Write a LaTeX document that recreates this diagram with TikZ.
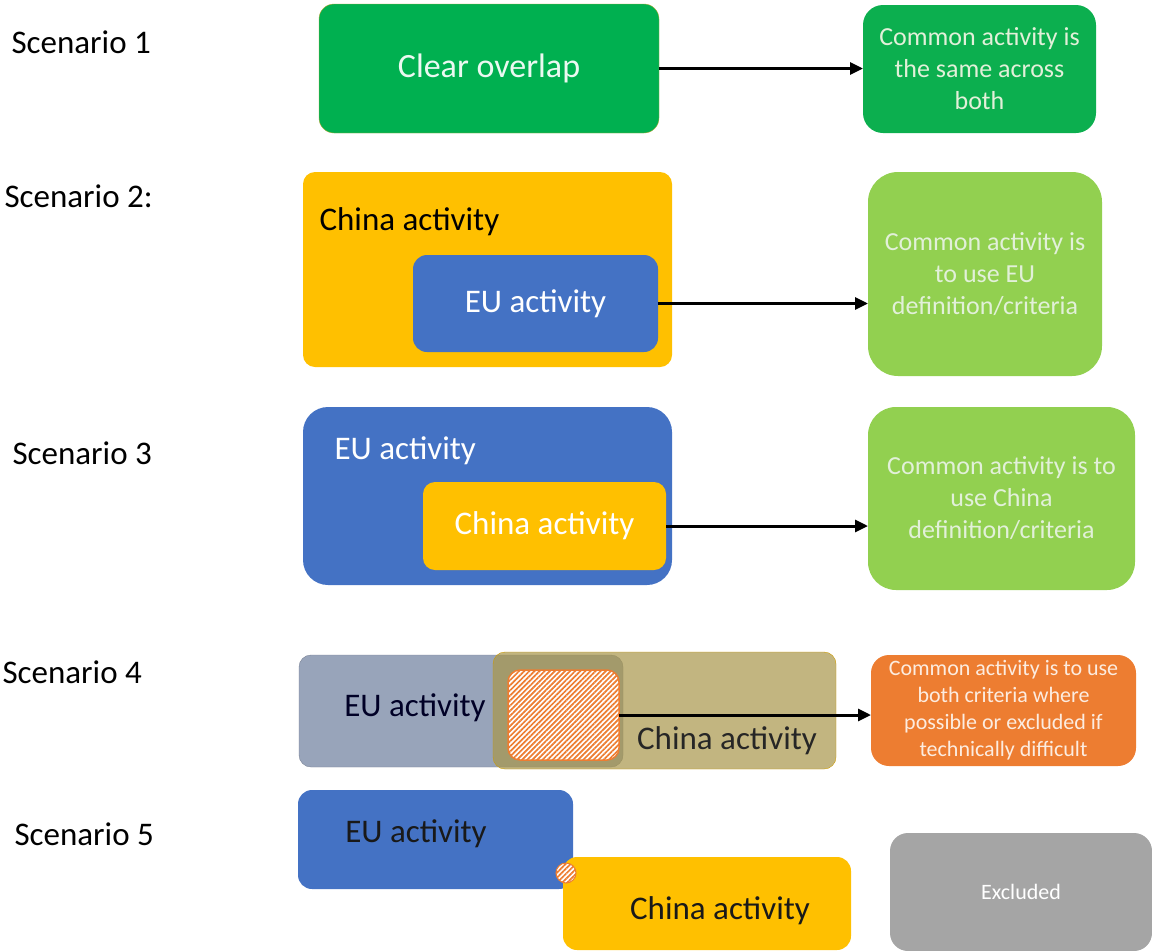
\documentclass[tikz,border=0pt]{standalone}
\usepackage{fontspec}
\setmainfont{Carlito}
\usetikzlibrary{arrows.meta,patterns.meta}

\definecolor{okgreen}{HTML}{00B050}
\definecolor{resgreen}{HTML}{0CAF4F}
\definecolor{lightgreen}{HTML}{92D050}
\definecolor{cnyellow}{HTML}{FFC000}
\definecolor{eublue}{HTML}{4472C4}
\definecolor{mixorange}{HTML}{ED7D31}
\definecolor{exgrey}{HTML}{A5A5A5}
\definecolor{eugrey}{HTML}{98A4BA}
\definecolor{cntan}{HTML}{A8964A}
\definecolor{paletext}{HTML}{E2F0D9}

\tikzset{
  blk/.style={anchor=north west, inner sep=0pt, outer sep=0pt, rounded corners=#1},
  big/.style={font=\fontsize{33}{40}\selectfont},
  mid/.style={font=\fontsize{26}{32}\selectfont, align=center, text=paletext},
  small/.style={font=\fontsize{22}{27}\selectfont, align=center},
  hatched/.style={fill=white, draw=mixorange, line width=1.5pt,
    postaction={pattern={Lines[angle=45,distance=3.6pt,line width=1.7pt]}, pattern color=mixorange}},
  link/.style={line width=3pt, -{Triangle[length=13pt,width=12pt]}},
}

\begin{document}
\begin{tikzpicture}[x=1pt,y=-1pt]
  \useasboundingbox (0,0) rectangle (1152,951);

  % Scenario names
  \node[big, anchor=west] (sc1) at (8,42)  {Scenario 1};
  \node[big, anchor=west] (sc2) at (1,196) {Scenario 2:};
  \node[big, anchor=west] (sc3) at (9,453) {Scenario 3};
  \node[big, anchor=west] (sc4) at (-1,672) {Scenario 4};
  \node[big, anchor=west] (sc5) at (11,834) {Scenario 5};

  % Scenario 1
  \node[blk=15pt, fill=okgreen, draw=olive!70, minimum width=340pt, minimum height=129pt,
        big, font=\fontsize{34}{40}\selectfont, text=white!92!okgreen] (ov1) at (319,4) {Clear overlap};
  \node[blk=20pt, fill=resgreen, minimum width=233pt, minimum height=128pt, mid] (res1) at (863,5)
        {Common activity is\\the same across\\both};

  % Scenario 2
  \node[blk=12pt, fill=cnyellow, minimum width=369pt, minimum height=195pt] (ch2) at (303,172) {};
  \node[big, anchor=west] (ch2txt) at (316,222) {China activity};
  \node[blk=14pt, fill=eublue, minimum width=245pt, minimum height=97pt, big, text=white] (eu2) at (413,255) {EU activity};
  \node[blk=30pt, fill=lightgreen, minimum width=234pt, minimum height=204pt, mid] (res2) at (868,172)
        {Common activity is\\to use EU\\definition/criteria};

  % Scenario 3
  \node[blk=25pt, fill=eublue, minimum width=369pt, minimum height=178pt] (eu3) at (303,407) {};
  \node[big, anchor=west, text=white] (eu3txt) at (331,451) {EU activity};
  \node[blk=12pt, fill=cnyellow, minimum width=243pt, minimum height=88pt, big, text=white] (ch3) at (423,482) {China activity};
  \node[blk=28pt, fill=lightgreen, minimum width=267pt, minimum height=183pt, mid] (res3) at (868,407)
        {Common activity is to\\use China\\definition/criteria};

  % Scenario 4
  \node[blk=12pt, fill=eugrey, draw=eugrey!80!black, minimum width=324pt, minimum height=112pt] (eu4) at (299,655) {};
  \node[big, text=black!85!blue] (eu4txt) at (415,708) {EU activity};
  \node[blk=12pt, fill=cntan, fill opacity=0.7, draw=cnyellow!80!black, minimum width=343pt, minimum height=117pt] (ch4) at (493,652) {};
  \node[big, text=black!85] (ch4txt) at (727,741) {China activity};
  \node[blk=12pt, hatched, minimum width=111pt, minimum height=90pt] (hatch4) at (508,670) {};
  \node[blk=18pt, fill=mixorange, minimum width=265pt, minimum height=111pt, small, text=white!85!mixorange] (res4) at (871,655)
        {Common activity is to use\\both criteria where\\possible or excluded if\\technically difficult};

  % Scenario 5
  \node[blk=14pt, fill=eublue, minimum width=275pt, minimum height=99pt] (eu5) at (298,790) {};
  \node[big, text=black!90] (eu5txt) at (416,834) {EU activity};
  \node[blk=14pt, fill=cnyellow, minimum width=288pt, minimum height=93pt] (ch5) at (563,857) {};
  \node[big, text=black!90] (ch5txt) at (720,911) {China activity};
  \node[circle, hatched, line width=1pt, minimum size=20pt, inner sep=0pt] (spot5) at (566,873) {};
  \node[blk=18pt, fill=exgrey, minimum width=262pt, minimum height=118pt, small, text=white] (excl) at (890,833) {Excluded};

  % Arrows
  \draw[link] (ov1.east) -- (ov1.east -| res1.west);
  \draw[link] (eu2.east) -- (eu2.east -| res2.west);
  \draw[link] (ch3.east) -- (ch3.east -| res3.west);
  \draw[link] (hatch4.east) -- (hatch4.east -| res4.west);
\end{tikzpicture}
\end{document}
